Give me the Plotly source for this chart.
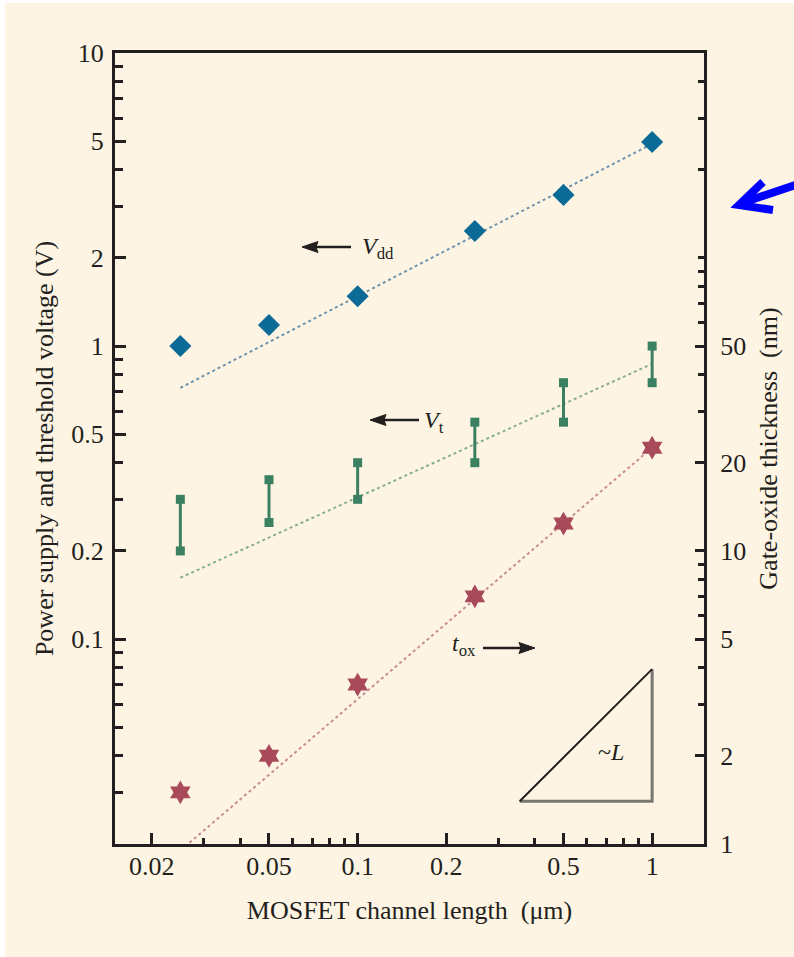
import plotly.graph_objects as go
import math

# ---------------- data ----------------
channel_len = [0.025, 0.05, 0.1, 0.25, 0.5, 1.0]          # MOSFET channel length (um)
vdd = [1.0, 1.18, 1.48, 2.47, 3.28, 4.97]                 # power supply voltage (V)
vt_low = [0.2, 0.25, 0.3, 0.4, 0.55, 0.75]                # threshold voltage range, low (V)
vt_high = [0.3, 0.35, 0.4, 0.55, 0.75, 1.0]               # threshold voltage range, high (V)
tox_nm = [1.5, 2.0, 3.5, 7.0, 12.4, 22.5]                 # gate-oxide thickness (nm)

fit_x = [0.025, 1.0]
vdd_fit = [0.72, 4.9]
vt_fit = [0.162, 0.87]
tox_fit = [0.95, 22.5]

slope_tri_x = [0.355, 1.0]
slope_tri_y = [0.028, 0.079]

x_ticks = [0.02, 0.05, 0.1, 0.2, 0.5, 1]
x_ticklabels = ["0.02", "0.05", "0.1", "0.2", "0.5", "1"]
x_minor = [0.03, 0.04, 0.06, 0.07, 0.08, 0.09, 0.3, 0.4, 0.6, 0.7, 0.8, 0.9]
y_ticks = [0.1, 0.2, 0.5, 1, 2, 5, 10]
y_ticklabels = ["0.1", "0.2", "0.5", "1", "2", "5", "10"]
y_minor = [0.03, 0.04, 0.05, 0.06, 0.07, 0.08, 0.09, 0.3, 0.4, 0.6, 0.7, 0.8, 0.9,
           3, 4, 6, 7, 8, 9]
y2_ticks = [1, 2, 5, 10, 20, 50]
y2_ticklabels = ["1", "2", "5", "10", "20", "50"]
y2_minor = [3, 4, 6, 7, 8, 9, 30, 40, 60, 70, 80, 90, 100, 200, 300, 400]

# ---------------- style ----------------
BG = "#FDF4E3"
INK = "#231F20"
BLUE = "#0B6A96"
GREEN = "#3C8062"
RED = "#A84A5A"
FONT = "Liberation Serif"

fig = go.Figure()

# fitted trend lines (dotted)
fig.add_trace(go.Scatter(x=fit_x, y=vdd_fit, mode="lines",
                         line=dict(color="#6D93AE", width=2, dash="dot"),
                         hoverinfo="skip", showlegend=False))
fig.add_trace(go.Scatter(x=fit_x, y=vt_fit, mode="lines",
                         line=dict(color="#86AE90", width=2, dash="dot"),
                         hoverinfo="skip", showlegend=False))
fig.add_trace(go.Scatter(x=fit_x, y=tox_fit, mode="lines", yaxis="y2",
                         line=dict(color="#C98C96", width=2, dash="dot"),
                         hoverinfo="skip", showlegend=False))

# Vdd diamonds
fig.add_trace(go.Scatter(x=channel_len, y=vdd, mode="markers",
                         marker=dict(symbol="diamond", size=17, color=BLUE),
                         name="Vdd", showlegend=False))

# Vt ranges: vertical bars with square ends
vt_x, vt_y = [], []
for xv, lo, hi in zip(channel_len, vt_low, vt_high):
    vt_x += [xv, xv, None]
    vt_y += [lo, hi, None]
fig.add_trace(go.Scatter(x=vt_x, y=vt_y, mode="lines+markers",
                         line=dict(color=GREEN, width=3),
                         marker=dict(symbol="square", size=9, color=GREEN),
                         name="Vt", showlegend=False))

# tox stars (right axis)
fig.add_trace(go.Scatter(x=channel_len, y=tox_nm, mode="markers", yaxis="y2",
                         marker=dict(symbol="hexagram", size=18, color=RED),
                         name="tox", showlegend=False))

# ~L slope triangle
fig.add_trace(go.Scatter(x=[slope_tri_x[0], slope_tri_x[1], slope_tri_x[1]],
                         y=[slope_tri_y[0], slope_tri_y[0], slope_tri_y[1]],
                         mode="lines", line=dict(color="#7A7672", width=3),
                         hoverinfo="skip", showlegend=False))
fig.add_trace(go.Scatter(x=slope_tri_x, y=slope_tri_y,
                         mode="lines", line=dict(color=INK, width=2),
                         hoverinfo="skip", showlegend=False))

# ---------------- layout geometry ----------------
W, H = 794, 957
ML, MR, MT, MB = 115, 90, 53, 113
XR = [math.log10(0.015), math.log10(1.5)]
YR = [math.log10(0.02), 1.0]
Y2R = [0.0, math.log10(500)]
PW, PH = W - ML - MR, H - MT - MB


def lx(px):
    return XR[0] + (px - ML) / PW * (XR[1] - XR[0])


def ly(py):
    return YR[0] + (MT + PH - py) / PH * (YR[1] - YR[0])


def paper_x(px):
    return (px - ML) / PW


def paper_y(py):
    return 1 - (py - MT) / PH


def pt(px, py):
    return f"{paper_x(px):.5f},{paper_y(py):.5f}"


tfont = dict(family=FONT, size=26, color=INK)
lfont = dict(family=FONT, size=24, color=INK)

annotations = [
    dict(x=lx(360), y=ly(248), xref="x", yref="y", showarrow=False,
         text="<i>V</i><sub>dd</sub>", xanchor="left", yanchor="middle", font=lfont),
    dict(x=lx(422), y=ly(422), xref="x", yref="y", showarrow=False,
         text="<i>V</i><sub>t</sub>", xanchor="left", yanchor="middle", font=lfont),
    dict(x=lx(450), y=ly(645), xref="x", yref="y", showarrow=False,
         text="<i>t</i><sub>ox</sub>", xanchor="left", yanchor="middle", font=lfont),
    dict(x=lx(611), y=ly(752), xref="x", yref="y", showarrow=False,
         text="~<i>L</i>", xanchor="center", yanchor="middle", font=lfont),
]

shapes = [
    dict(type="rect", xref="paper", yref="paper", x0=paper_x(0), x1=paper_x(W),
         y0=paper_y(3), y1=paper_y(0), fillcolor="#FFFFFF", line_width=0, layer="below"),
    dict(type="rect", xref="paper", yref="paper", x0=paper_x(0), x1=paper_x(5),
         y0=paper_y(H), y1=paper_y(0), fillcolor="#FFFFFF", line_width=0, layer="below"),
]

# black label arrows (shaft + filled head)
HEAD_L, HEAD_W = 14, 5.5
for tip, tail, ypx in [(302, 351, 247), (370, 419, 420), (535, 483, 648)]:
    d = 1 if tail > tip else -1
    base = tip + d * HEAD_L
    shapes.append(dict(type="path", xref="paper", yref="paper",
                       path=f"M{pt(tail, ypx)} L{pt(base, ypx)}",
                       line=dict(color=INK, width=2.5)))
    shapes.append(dict(type="path", xref="paper", yref="paper",
                       path=f"M{pt(tip, ypx)} L{pt(base + d * 2, ypx - HEAD_W)} "
                            f"L{pt(base, ypx)} L{pt(base + d * 2, ypx + HEAD_W)} Z",
                       fillcolor=INK, line=dict(color=INK, width=1)))

# blue pointer arrow in the right margin
shapes.append(dict(type="path", xref="paper", yref="paper",
                   path=f"M{pt(763, 182)} L{pt(739, 205)} L{pt(773, 210)}",
                   line=dict(color="#0000FF", width=8)))
shapes.append(dict(type="path", xref="paper", yref="paper",
                   path=f"M{pt(742, 203)} L{pt(810, 180)}",
                   line=dict(color="#0000FF", width=8)))

fig.update_layout(
    width=W, height=H, autosize=False,
    margin=dict(l=ML, r=MR, t=MT, b=MB, pad=0),
    paper_bgcolor=BG, plot_bgcolor=BG,
    font=tfont,
    showlegend=False,
    annotations=annotations,
    shapes=shapes,
    xaxis=dict(
        type="log", range=XR, showgrid=False, zeroline=False,
        showline=True, linecolor=INK, linewidth=3, mirror=True,
        ticks="inside", ticklen=11, tickwidth=3, tickcolor=INK,
        tickmode="array", tickvals=x_ticks, ticktext=x_ticklabels,
        tickfont=tfont, ticklabelstandoff=-3,
        minor=dict(ticks="inside", ticklen=6, tickwidth=3, tickcolor=INK,
                   tickmode="array", tickvals=x_minor, showgrid=False),
        title=dict(text="MOSFET channel length\u00a0 (μm)", font=tfont, standoff=21),
    ),
    yaxis=dict(
        type="log", range=YR, showgrid=False, zeroline=False,
        showline=True, linecolor=INK, linewidth=3, mirror=False,
        ticks="inside", ticklen=11, tickwidth=3, tickcolor=INK,
        tickmode="array", tickvals=y_ticks, ticktext=y_ticklabels,
        tickfont=tfont, ticklabelstandoff=3,
        minor=dict(ticks="inside", ticklen=8, tickwidth=3, tickcolor=INK,
                   tickmode="array", tickvals=y_minor, showgrid=False),
        title=dict(text="Power supply and threshold voltage (V)", font=tfont, standoff=11),
    ),
    yaxis2=dict(
        type="log", range=Y2R, overlaying="y", side="right",
        showgrid=False, zeroline=False,
        showline=True, linecolor=INK, linewidth=3,
        ticks="inside", ticklen=9, tickwidth=3, tickcolor=INK,
        tickmode="array", tickvals=y2_ticks, ticktext=y2_ticklabels,
        tickfont=tfont, ticklabelstandoff=8,
        minor=dict(ticks="inside", ticklen=6, tickwidth=3, tickcolor=INK,
                   tickmode="array", tickvals=y2_minor, showgrid=False),
        title=dict(text="Gate-oxide thickness\u00a0 (nm)", font=tfont, standoff=14),
    ),
)

fig.write_html("out.html", config={"displayModeBar": False},
               post_script="document.body.style.margin='0';")
